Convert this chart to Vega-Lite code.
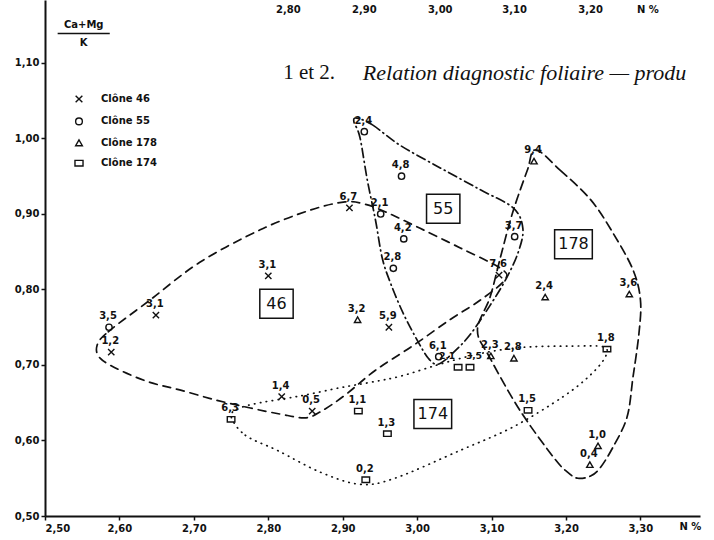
{
"$schema":"https://vega.github.io/schema/vega-lite/v6.json",
"width":655,"height":516,
"autosize":{"type":"none"},
"padding":{"left":45,"top":0,"right":14,"bottom":24},
"background":"white",
"config":{"view":{"stroke":null},"font":"DejaVu Sans"},
"datasets":{
"pts":[
{"c":"Clône 46","x":2.589,"y":0.717,"lab":"1,2"},
{"c":"Clône 46","x":2.649,"y":0.766,"lab":"3,1"},
{"c":"Clône 46","x":2.800,"y":0.818,"lab":"3,1"},
{"c":"Clône 46","x":2.909,"y":0.908,"lab":"6,7"},
{"c":"Clône 46","x":3.110,"y":0.819,"lab":"7,6"},
{"c":"Clône 46","x":2.962,"y":0.750,"lab":"5,9"},
{"c":"Clône 46","x":2.818,"y":0.658,"lab":"1,4"},
{"c":"Clône 46","x":2.859,"y":0.639,"lab":"0,5"},
{"c":"Clône 55","x":2.586,"y":0.750,"lab":"3,5"},
{"c":"Clône 55","x":2.929,"y":1.009,"lab":"2,4"},
{"c":"Clône 55","x":2.979,"y":0.950,"lab":"4,8"},
{"c":"Clône 55","x":2.951,"y":0.900,"lab":"2,1"},
{"c":"Clône 55","x":2.982,"y":0.867,"lab":"4,2"},
{"c":"Clône 55","x":2.968,"y":0.828,"lab":"2,8"},
{"c":"Clône 55","x":3.131,"y":0.870,"lab":"3,7"},
{"c":"Clône 55","x":3.029,"y":0.711,"lab":"6,1"},
{"c":"Clône 178","x":3.157,"y":0.970,"lab":"9,4"},
{"c":"Clône 178","x":3.172,"y":0.790,"lab":"2,4"},
{"c":"Clône 178","x":3.285,"y":0.794,"lab":"3,6"},
{"c":"Clône 178","x":2.920,"y":0.760,"lab":"3,2"},
{"c":"Clône 178","x":3.099,"y":0.712,"lab":"2,3"},
{"c":"Clône 178","x":3.130,"y":0.709,"lab":"2,8"},
{"c":"Clône 178","x":3.243,"y":0.593,"lab":"1,0"},
{"c":"Clône 178","x":3.232,"y":0.568,"lab":"0,4"},
{"c":"Clône 174","x":2.750,"y":0.628,"lab":"6,3"},
{"c":"Clône 174","x":2.921,"y":0.639,"lab":"1,1"},
{"c":"Clône 174","x":2.960,"y":0.609,"lab":"1,3"},
{"c":"Clône 174","x":2.931,"y":0.548,"lab":"0,2"},
{"c":"Clône 174","x":3.055,"y":0.697,"lab":"2,1"},
{"c":"Clône 174","x":3.071,"y":0.697,"lab":"3,5"},
{"c":"Clône 174","x":3.255,"y":0.721,"lab":"1,8"},
{"c":"Clône 174","x":3.149,"y":0.640,"lab":"1,5"}
],
"env":[
{"g":"46","i":0,"x":2.570,"y":0.726},{"g":"46","i":1,"x":2.585,"y":0.744},{"g":"46","i":2,"x":2.641,"y":0.786},{"g":"46","i":3,"x":2.708,"y":0.836},{"g":"46","i":4,"x":2.789,"y":0.879},{"g":"46","i":5,"x":2.856,"y":0.905},{"g":"46","i":6,"x":2.903,"y":0.916},{"g":"46","i":7,"x":2.930,"y":0.913},{"g":"46","i":8,"x":2.957,"y":0.903},{"g":"46","i":9,"x":3.004,"y":0.881},{"g":"46","i":10,"x":3.058,"y":0.855},{"g":"46","i":11,"x":3.112,"y":0.828},{"g":"46","i":12,"x":3.118,"y":0.813},{"g":"46","i":13,"x":3.085,"y":0.786},{"g":"46","i":14,"x":3.044,"y":0.760},{"g":"46","i":15,"x":2.995,"y":0.726},{"g":"46","i":16,"x":2.944,"y":0.693},{"g":"46","i":17,"x":2.903,"y":0.660},{"g":"46","i":18,"x":2.870,"y":0.638},{"g":"46","i":19,"x":2.849,"y":0.630},{"g":"46","i":20,"x":2.816,"y":0.635},{"g":"46","i":21,"x":2.776,"y":0.643},{"g":"46","i":22,"x":2.728,"y":0.654},{"g":"46","i":23,"x":2.681,"y":0.667},{"g":"46","i":24,"x":2.641,"y":0.677},{"g":"46","i":25,"x":2.601,"y":0.693},{"g":"46","i":26,"x":2.574,"y":0.709},
{"g":"55","i":0,"x":2.919,"y":1.027},{"g":"55","i":1,"x":2.940,"y":1.018},{"g":"55","i":2,"x":2.977,"y":0.991},{"g":"55","i":3,"x":3.031,"y":0.961},{"g":"55","i":4,"x":3.085,"y":0.932},{"g":"55","i":5,"x":3.129,"y":0.908},{"g":"55","i":6,"x":3.142,"y":0.881},{"g":"55","i":7,"x":3.136,"y":0.850},{"g":"55","i":8,"x":3.120,"y":0.815},{"g":"55","i":9,"x":3.098,"y":0.779},{"g":"55","i":10,"x":3.071,"y":0.740},{"g":"55","i":11,"x":3.047,"y":0.715},{"g":"55","i":12,"x":3.028,"y":0.701},{"g":"55","i":13,"x":3.015,"y":0.709},{"g":"55","i":14,"x":3.000,"y":0.733},{"g":"55","i":15,"x":2.981,"y":0.769},{"g":"55","i":16,"x":2.964,"y":0.809},{"g":"55","i":17,"x":2.953,"y":0.842},{"g":"55","i":18,"x":2.944,"y":0.892},{"g":"55","i":19,"x":2.933,"y":0.945},{"g":"55","i":20,"x":2.923,"y":1.002},{"g":"55","i":21,"x":2.915,"y":1.022},
{"g":"178","i":0,"x":3.159,"y":0.985},{"g":"178","i":1,"x":3.192,"y":0.958},{"g":"178","i":2,"x":3.233,"y":0.919},{"g":"178","i":3,"x":3.263,"y":0.875},{"g":"178","i":4,"x":3.290,"y":0.826},{"g":"178","i":5,"x":3.300,"y":0.786},{"g":"178","i":6,"x":3.298,"y":0.742},{"g":"178","i":7,"x":3.290,"y":0.684},{"g":"178","i":8,"x":3.282,"y":0.631},{"g":"178","i":9,"x":3.263,"y":0.591},{"g":"178","i":10,"x":3.246,"y":0.564},{"g":"178","i":11,"x":3.233,"y":0.553},{"g":"178","i":12,"x":3.216,"y":0.550},{"g":"178","i":13,"x":3.202,"y":0.558},{"g":"178","i":14,"x":3.183,"y":0.578},{"g":"178","i":15,"x":3.138,"y":0.640},{"g":"178","i":16,"x":3.098,"y":0.709},{"g":"178","i":17,"x":3.081,"y":0.746},{"g":"178","i":18,"x":3.098,"y":0.790},{"g":"178","i":19,"x":3.112,"y":0.843},{"g":"178","i":20,"x":3.128,"y":0.901},{"g":"178","i":21,"x":3.148,"y":0.958},
{"g":"174","i":0,"x":2.750,"y":0.632},{"g":"174","i":1,"x":2.769,"y":0.607},{"g":"174","i":2,"x":2.812,"y":0.587},{"g":"174","i":3,"x":2.870,"y":0.558},{"g":"174","i":4,"x":2.923,"y":0.542},{"g":"174","i":5,"x":2.970,"y":0.550},{"g":"174","i":6,"x":3.058,"y":0.587},{"g":"174","i":7,"x":3.129,"y":0.618},{"g":"174","i":8,"x":3.196,"y":0.658},{"g":"174","i":9,"x":3.233,"y":0.687},{"g":"174","i":10,"x":3.253,"y":0.711},{"g":"174","i":11,"x":3.250,"y":0.724},{"g":"174","i":12,"x":3.206,"y":0.725},{"g":"174","i":13,"x":3.152,"y":0.724},{"g":"174","i":14,"x":3.112,"y":0.720},{"g":"174","i":15,"x":3.071,"y":0.712},{"g":"174","i":16,"x":3.027,"y":0.700},{"g":"174","i":17,"x":2.977,"y":0.685},{"g":"174","i":18,"x":2.937,"y":0.677},{"g":"174","i":19,"x":2.897,"y":0.670},{"g":"174","i":20,"x":2.843,"y":0.659},{"g":"174","i":21,"x":2.789,"y":0.650},{"g":"174","i":22,"x":2.762,"y":0.643}
],
"boxes":[
{"t":"46","x":2.811,"y":0.781},
{"t":"55","x":3.035,"y":0.907},
{"t":"178","x":3.210,"y":0.860},
{"t":"174","x":3.021,"y":0.635}
]
},
"encoding":{
"x":{"field":"x","type":"quantitative","scale":{"domain":[2.5,3.38],"nice":false,"zero":false},
 "axis":{"values":[2.5,2.6,2.7,2.8,2.9,3.0,3.1,3.2,3.3],"labelExpr":"replace(format(datum.value,'.2f'),'.',',')","title":null,"grid":false,"domainColor":"#111","domainWidth":2,"tickColor":"#111","tickSize":4,"tickWidth":1.5,"labelColor":"#111","labelFont":"DejaVu Sans","labelFontWeight":"bold","labelFontSize":10,"labelPadding":3}},
"y":{"field":"y","type":"quantitative","scale":{"domain":[0.5,1.1834],"nice":false,"zero":false},
 "axis":{"values":[0.5,0.6,0.7,0.8,0.9,1.0,1.1],"labelExpr":"replace(format(datum.value,'.2f'),'.',',')","title":null,"grid":false,"domainColor":"#111","domainWidth":2,"tickColor":"#111","tickSize":4,"tickWidth":1.5,"labelColor":"#111","labelFont":"DejaVu Sans","labelFontWeight":"bold","labelFontSize":10,"labelPadding":2}}
},
"layer":[
{"data":{"name":"env"},
 "mark":{"type":"line","interpolate":"cardinal-closed","strokeWidth":1.7,"color":"#111","strokeCap":"round"},
 "encoding":{"detail":{"field":"g"},"order":{"field":"i","type":"quantitative"},
  "strokeDash":{"field":"g","type":"nominal","scale":{"domain":["46","55","178","174"],"range":[[8,6],[9,4,1,4],[9,5],[0.5,5.5]]},"legend":null}}},
{"data":{"name":"pts"},
 "mark":{"type":"point","filled":false,"color":"#111","strokeWidth":1.4,"size":40,"opacity":1},
 "encoding":{"shape":{"field":"c","type":"nominal","scale":{"domain":["Clône 46","Clône 55","Clône 178","Clône 174"],"range":["M-1,-1L1,1M1,-1L-1,1","circle","triangle-up","M-1.2,-0.85H1.2V0.85H-1.2Z"]},
  "legend":{"title":null,"orient":"none","legendX":29,"legendY":94,"padding":0,"symbolSize":45,"symbolStrokeWidth":1.4,"symbolStrokeColor":"#111","symbolFillColor":"transparent","labelFont":"DejaVu Sans","labelFontWeight":"bold","labelFontSize":10,"labelColor":"#111","labelOffset":17,"rowPadding":8.4}}}},
{"data":{"name":"pts"},
 "transform":[{"filter":"!(datum.c == 'Clône 174' && (datum.lab == '2,1' || datum.lab == '3,5'))"}],
 "mark":{"type":"text","dy":-11,"dx":-1,"font":"DejaVu Sans","fontSize":10,"fontWeight":"bold","color":"#111"},
 "encoding":{"text":{"field":"lab"}}},
{"data":{"name":"pts"},
 "transform":[{"filter":"datum.c == 'Clône 174' && datum.lab == '2,1'"}],
 "mark":{"type":"text","dy":-11,"dx":-3,"align":"right","font":"DejaVu Sans","fontSize":9,"fontWeight":"bold","color":"#111"},
 "encoding":{"text":{"field":"lab"}}},
{"data":{"name":"pts"},
 "transform":[{"filter":"datum.c == 'Clône 174' && datum.lab == '3,5'"}],
 "mark":{"type":"text","dy":-11,"dx":-4,"align":"left","font":"DejaVu Sans","fontSize":9,"fontWeight":"bold","color":"#111"},
 "encoding":{"text":{"field":"lab"}}},
{"data":{"name":"boxes"},
 "mark":{"type":"point","filled":false,"color":"#111","strokeWidth":1.5,"size":841,"opacity":1,"shape":"M-1.15,-1H1.15V1H-1.15Z"},
 "encoding":{"shape":{"condition":{"test":"length(datum.t) > 2","value":"M-1.3,-1H1.3V1H-1.3Z"},"value":"M-1.15,-1H1.15V1H-1.15Z"}}},
{"data":{"name":"boxes"},
 "mark":{"type":"text","font":"DejaVu Sans","fontSize":16,"color":"#111","baseline":"middle"},
 "encoding":{"text":{"field":"t"}}},
{"data":{"values":[{"x":2.552,"y":1.150,"t":"Ca+Mg"},{"x":2.552,"y":1.127,"t":"K"}]},
 "mark":{"type":"text","font":"DejaVu Sans","fontSize":10,"fontWeight":"bold","color":"#111","baseline":"middle"},
 "encoding":{"text":{"field":"t"}}},
{"data":{"values":[{"x":2.517,"x2":2.587,"y":1.139}]},
 "mark":{"type":"rule","color":"#111","strokeWidth":1.3},
 "encoding":{"x2":{"field":"x2"}}},
{"data":{"values":[{"x":2.827,"y":1.170,"t":"2,80"},{"x":2.929,"y":1.170,"t":"2,90"},{"x":3.031,"y":1.170,"t":"3,00"},{"x":3.131,"y":1.170,"t":"3,10"},{"x":3.233,"y":1.170,"t":"3,20"},{"x":3.310,"y":1.170,"t":"N %"},{"x":3.367,"y":0.485,"t":"N %"}]},
 "mark":{"type":"text","font":"DejaVu Sans","fontSize":10,"fontWeight":"bold","color":"#111","baseline":"middle"},
 "encoding":{"text":{"field":"t"}}},
{"data":{"values":[{"x":2.820,"y":1.087,"t":"1 et 2."}]},
 "mark":{"type":"text","font":"Liberation Serif","fontSize":21,"color":"#111","align":"left","baseline":"middle"},
 "encoding":{"text":{"field":"t"}}},
{"data":{"values":[{"x":2.927,"y":1.087,"t":"Relation diagnostic foliaire — produ"}]},
 "mark":{"type":"text","font":"Liberation Serif","fontSize":22,"fontStyle":"italic","color":"#111","align":"left","baseline":"middle"},
 "encoding":{"text":{"field":"t"}}}
]
}
